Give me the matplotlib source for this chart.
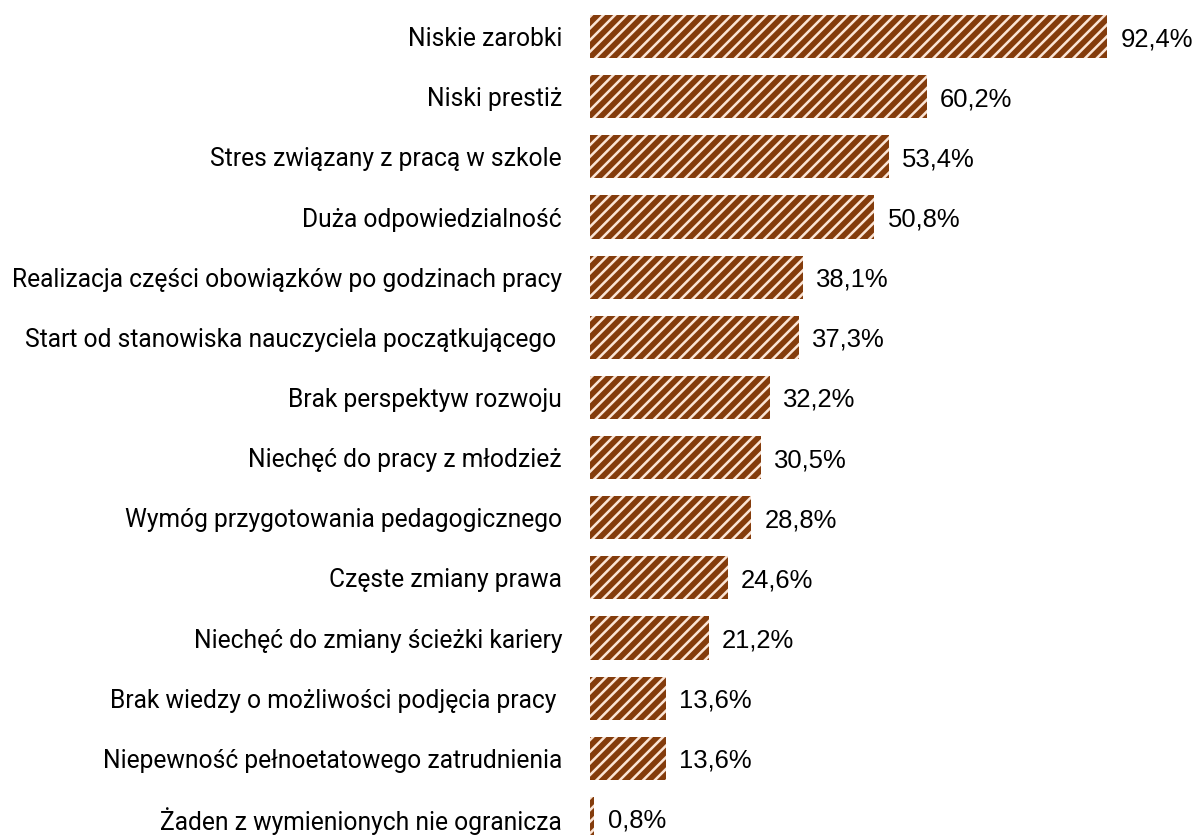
import matplotlib
matplotlib.use("Agg")
import matplotlib.pyplot as plt

categories = [
    "Niskie zarobki",
    "Niski prestiż",
    "Stres związany z pracą w szkole",
    "Duża odpowiedzialność",
    "Realizacja części obowiązków po godzinach pracy",
    "Start od stanowiska nauczyciela początkującego ",
    "Brak perspektyw rozwoju",
    "Niechęć do pracy z młodzież",
    "Wymóg przygotowania pedagogicznego",
    "Częste zmiany prawa",
    "Niechęć do zmiany ścieżki kariery",
    "Brak wiedzy o możliwości podjęcia pracy ",
    "Niepewność pełnoetatowego zatrudnienia",
    "Żaden z wymienionych nie ogranicza",
]
values = [92.4, 60.2, 53.4, 50.8, 38.1, 37.3, 32.2, 30.5, 28.8, 24.6, 21.2, 13.6, 13.6, 0.8]
value_labels = ["92,4%", "60,2%", "53,4%", "50,8%", "38,1%", "37,3%", "32,2%", "30,5%",
                "28,8%", "24,6%", "21,2%", "13,6%", "13,6%", "0,8%"]

DPI = 140
plt.rcParams['hatch.linewidth'] = 1.3
plt.rcParams['font.family'] = ['Roboto', 'DejaVu Sans']

fig = plt.figure(figsize=(1197 / DPI, 835 / DPI), dpi=DPI)
ax = fig.add_axes([590 / 1197, 1 - 848.5 / 835, 560 / 1197, 842 / 835])

dark = "#843C0C"
light = "#FBE5D6"
pos = list(range(len(categories)))
ax.barh(pos, values, height=0.715, color=dark, edgecolor=light, hatch="////", linewidth=0)

ax.set_xlim(0, 100)
ax.set_ylim(len(categories) - 0.5, -0.5)
ax.set_yticks(pos)
ax.set_yticklabels(categories, fontsize=12.7, color="#000000")
ax.tick_params(axis='y', length=0, pad=14.4)
ax.set_xticks([])
for s in ax.spines.values():
    s.set_visible(False)

for p, v, lab in zip(pos, values, value_labels):
    ax.annotate(lab, (v, p), xytext=(6.7, 0), textcoords="offset points",
                va="center_baseline", ha="left", fontsize=13.2, color="#000000",
                family=['Liberation Sans', 'DejaVu Sans'])

fig.savefig("out.png", dpi=DPI)
